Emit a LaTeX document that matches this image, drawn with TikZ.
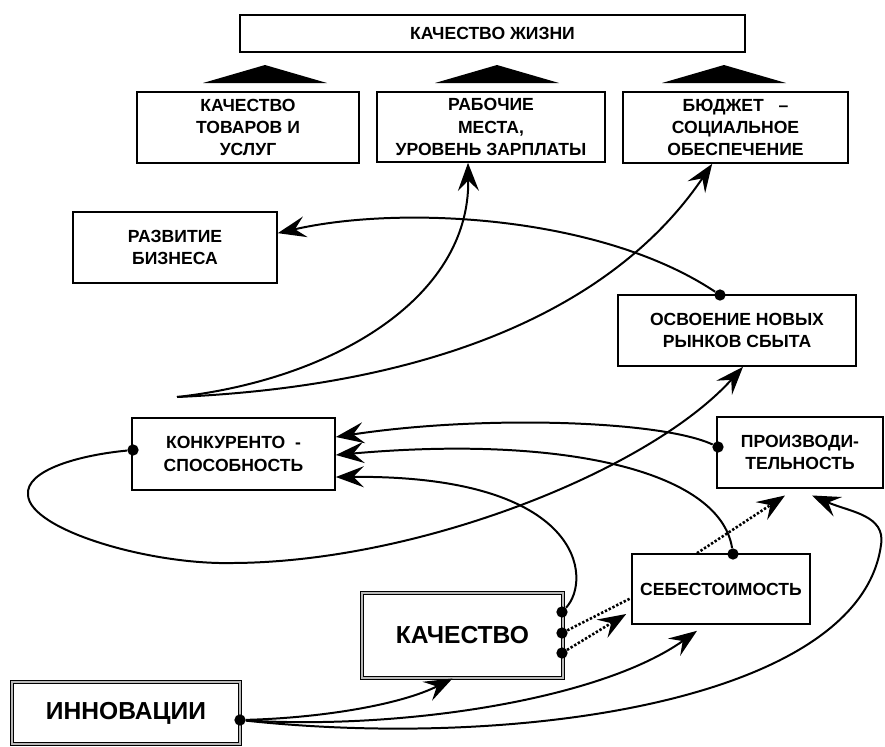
\documentclass[tikz,border=0pt]{standalone}
\usepackage{fontspec}
\setmainfont{Liberation Sans}
\usetikzlibrary{arrows.meta}

\begin{document}
\begin{tikzpicture}[x=0.03cm,y=-0.03cm,
  box/.style={draw,line width=1.4pt,align=center,inner sep=0pt,
    font=\bfseries\fontsize{15}{19}\selectfont},
  bigbox/.style={box,double=gray!55,double distance=2pt,line width=0.9pt,
    font=\bfseries\fontsize{21}{24}\selectfont},
  dot/.style={circle,fill,inner sep=0pt,minimum size=0.34cm},
  conn/.style={line width=1.7pt,-{Stealth[length=24pt,width=18pt,inset=9pt]}},
  dots/.style={conn,dash pattern=on 2pt off 1.6pt,line width=2.2pt}]
\useasboundingbox (0,0) rectangle (885,746);
\node[box,minimum width=15.15cm,minimum height=1.11cm] (zhizn) at (492.5,33.5) {КАЧЕСТВО ЖИЗНИ};
\node[box,minimum width=6.66cm,minimum height=2.13cm] (tovary) at (248,127.5) {КАЧЕСТВО\\ТОВАРОВ И\\УСЛУГ};
\node[box,minimum width=6.84cm,minimum height=2.1cm] (mesta) at (491,127) {РАБОЧИЕ\\МЕСТА,\\УРОВЕНЬ ЗАРПЛАТЫ};
\node[box,minimum width=6.75cm,minimum height=2.13cm] (budzhet) at (735.5,127.5) {БЮДЖЕТ~~~--\\СОЦИАЛЬНОЕ\\ОБЕСПЕЧЕНИЕ};
\node[box,minimum width=6.12cm,minimum height=2.13cm] (biznes) at (175,247.5) {РАЗВИТИЕ\\БИЗНЕСА};
\node[box,minimum width=7.14cm,minimum height=2.13cm] (rynki) at (737,330.5) {ОСВОЕНИЕ НОВЫХ\\РЫНКОВ СБЫТА};
\node[box,minimum width=6.09cm,minimum height=2.16cm] (konk) at (233.5,454) {КОНКУРЕНТО~~-\\СПОСОБНОСТЬ};
\node[box,minimum width=4.98cm,minimum height=2.13cm] (proizv) at (800,452.5) {ПРОИЗВОДИ-\\ТЕЛЬНОСТЬ};
\node[box,minimum width=5.34cm,minimum height=2.1cm] (sebest) at (721,589) {СЕБЕСТОИМОСТЬ};
\node[bigbox,minimum width=6.03cm,minimum height=2.55cm] (kach) at (462.5,635.5) {КАЧЕСТВО};
\node[bigbox,minimum width=6.84cm,minimum height=1.86cm] (innov) at (126,713) {ИННОВАЦИИ};
\foreach \x in {265,497,724}
  \fill (\x-62,83) -- (\x,65) -- (\x+62,83) -- cycle;
\node[dot] (rd) at (720,295) {};
\node[dot] (kd) at (133,450) {};
\node[dot] (pd) at (718,447) {};
\node[dot] (sd) at (733,554) {};
\node[dot] (kd1) at (562,612) {};
\node[dot] (kd2) at (562,633) {};
\node[dot] (kd3) at (562,653) {};
\node[dot] (id) at (240,720) {};
\coordinate (s) at (177,397);
\draw[conn] (rd) .. controls (600,215) and (400,205) .. ([yshift=0.43cm]biznes.east);
\draw[conn] (s) .. controls (330,380) and (470,300) .. ([xshift=-0.69cm]mesta.south);
\draw[conn] (s) .. controls (450,385) and (620,300) .. ([xshift=-0.7cm]budzhet.south);
\draw[conn] (kd) .. controls (80,455) and (25,470) .. (28,495) .. controls (30,530) and (150,565) .. (233,563)
  .. controls (420,562) and (650,470) .. ([xshift=0.18cm]rynki.south);
\draw[conn] (pd) .. controls (660,420) and (480,415) .. ([yshift=0.51cm]konk.east);
\draw[conn] (sd) .. controls (720,470) and (560,435) .. ([yshift=-0.03cm]konk.east);
\draw[conn] (kd1) .. controls (592,580) and (585,475) .. ([yshift=-0.69cm]konk.east);
\draw[dots,-] (kd2) -- ([yshift=-0.27cm]sebest.west);
\draw[dots] (kd3) -- ([xshift=-0.15cm,yshift=-0.75cm]sebest.west);
\draw[dots] ([xshift=-0.72cm]sebest.north) -- ([xshift=-0.45cm,yshift=-0.2cm]proizv.south);
\draw[conn] (id) .. controls (320,718) and (400,705) .. ([xshift=-0.3cm]kach.south);
\draw[conn] (id) .. controls (400,730) and (600,700) .. ([xshift=-0.72cm,yshift=-0.18cm]sebest.south);
\draw[conn] (id) .. controls (520,750) and (860,700) .. (881,545)
  .. controls (886,515) and (850,512) .. ([xshift=0.36cm,yshift=-0.2cm]proizv.south);
\end{tikzpicture}
\end{document}
